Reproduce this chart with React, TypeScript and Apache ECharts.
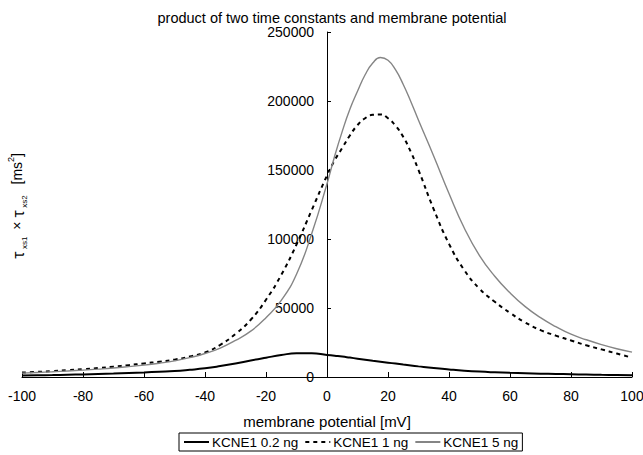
import React, { useEffect, useRef } from "react";
import * as echarts from "echarts";

const xValues = [-100, -95, -90, -85, -80, -75, -70, -65, -60, -55, -50, -45, -40, -35, -30, -25, -20, -15, -10, -5, 0, 2.5, 5, 7.5, 10, 12.5, 15, 17.5, 20, 22.5, 25, 27.5, 30, 35, 40, 45, 50, 55, 60, 65, 70, 75, 80, 85, 90, 95, 100];

const kcne1_02ng = [1000, 1200, 1400, 1650, 1900, 2200, 2500, 2900, 3300, 3800, 4300, 5200, 6300, 7900, 9800, 12000, 14000, 15900, 17200, 17200, 16000, 15400, 14800, 14050, 13300, 12550, 11800, 11100, 10400, 9700, 9000, 8350, 7700, 6500, 5500, 4600, 3900, 3400, 3000, 2700, 2400, 2200, 2000, 1800, 1600, 1450, 1300];

const kcne1_1ng = [3200, 3700, 4300, 5000, 5700, 6500, 7500, 8600, 9800, 11100, 12600, 14800, 17800, 23300, 31200, 41500, 56000, 74000, 96000, 121000, 146000, 157000, 166000, 175000, 182500, 187500, 190000, 190300, 187500, 182000, 174000, 163000, 150000, 121500, 96500, 77500, 64000, 54500, 46500, 39500, 34000, 30000, 26500, 23000, 20000, 17000, 14000];

const kcne1_5ng = [2800, 3300, 3800, 4400, 5000, 5700, 6500, 7500, 8600, 10000, 11700, 14000, 17000, 21000, 26500, 33200, 43000, 55500, 74500, 104000, 140000, 160000, 178000, 194000, 207000, 219000, 227500, 231500, 229500, 222500, 212000, 199500, 186000, 160000, 133000, 108000, 88000, 73000, 61000, 51000, 43000, 36500, 31000, 27000, 23500, 20500, 18000];

const seriesNames = ["KCNE1 0.2 ng", "KCNE1 1 ng", "KCNE1 5 ng"];

const FONT = "'Liberation Sans', Arial, sans-serif";
const TAU_FONT = "'Noto Sans CJK JP', 'DejaVu Sans', sans-serif";

const GRID_LEFT = 22;
const GRID_RIGHT = 11;
const CHART_W = 643;

export default function App() {
  const ref = useRef<HTMLDivElement>(null);
  useEffect(() => {
    if (!ref.current) return;
    const chart = echarts.init(ref.current, undefined, { renderer: "svg" });
    const pair = (ys: number[]) => xValues.map((x, i) => [x, ys[i]]);
    const plotW = CHART_W - GRID_LEFT - GRID_RIGHT;
    chart.setOption({
      animation: false,
      backgroundColor: "#fff",
      textStyle: { fontFamily: FONT },
      title: {
        text: "product of two time constants and membrane potential",
        left: 327,
        top: 5,
        textAlign: "center",
        textStyle: { fontSize: 14.5, fontWeight: "normal", color: "#000", fontFamily: FONT },
      },
      grid: {
        left: GRID_LEFT,
        right: GRID_RIGHT,
        top: 32,
        bottom: 78,
        containLabel: false,
        outerBoundsMode: "none",
      },
      legend: {
        data: seriesNames,
        bottom: 4,
        left: 179,
        itemWidth: 25,
        itemHeight: 8,
        itemGap: 6,
        borderColor: "#000",
        borderWidth: 1,
        padding: [2, 4],
        itemStyle: { opacity: 0 },
        textStyle: { fontSize: 13.5, color: "#000", fontFamily: FONT, padding: [0, 0, 0, -2] },
      },
      xAxis: {
        type: "value",
        min: -100,
        max: 100,
        interval: 20,
        name: "membrane potential [mV]",
        nameLocation: "middle",
        nameGap: 37,
        nameTextStyle: { fontSize: 15, color: "#000", fontFamily: FONT },
        axisLine: { onZero: true, lineStyle: { color: "#000", width: 1 } },
        axisTick: { inside: true, length: 5, lineStyle: { color: "#000" } },
        axisLabel: { fontSize: 14, color: "#000", margin: 12, fontFamily: FONT },
        splitLine: { show: false },
      },
      yAxis: {
        type: "value",
        min: 0,
        max: 250000,
        interval: 50000,
        offset: -plotW / 2,
        axisLine: { show: true, onZero: false, lineStyle: { color: "#000", width: 1 } },
        axisTick: { show: true, inside: true, length: 4, lineStyle: { color: "#000" } },
        axisLabel: {
          fontSize: 14,
          color: "#000",
          margin: 13,
          fontFamily: FONT,
          formatter: (v: number) => String(v),
        },
        splitLine: { show: false },
      },
      graphic: [
        {
          type: "text",
          x: 17,
          y: 206,
          rotation: Math.PI / 2,
          style: {
            text: "{tau|τ}{sub| xs1}{t| × }{tau|τ}{sub| xs2}{t|  [ms}{sup|2}{t|]}",
            align: "center",
            verticalAlign: "middle",
            fill: "#000",
            rich: {
              tau: { fontSize: 15, fontFamily: TAU_FONT, fill: "#000", lineHeight: 22, verticalAlign: "middle" },
              t: { fontSize: 14, fontFamily: FONT, fill: "#000", lineHeight: 22, verticalAlign: "middle" },
              sub: { fontSize: 8, fontFamily: FONT, fill: "#000", lineHeight: 22, verticalAlign: "bottom", padding: [0, 3, 0, 0] },
              sup: { fontSize: 9, fontFamily: FONT, fill: "#000", lineHeight: 22, verticalAlign: "top" },
            },
          },
        },
      ],
      series: [
        {
          name: seriesNames[0],
          type: "line",
          data: pair(kcne1_02ng),
          smooth: true,
          symbol: "none",
          lineStyle: { color: "#000", width: 2, type: "solid" },
          itemStyle: { color: "#000" },
        },
        {
          name: seriesNames[1],
          type: "line",
          data: pair(kcne1_1ng),
          smooth: true,
          symbol: "none",
          lineStyle: { color: "#000", width: 2, type: [4, 4] },
          itemStyle: { color: "#000" },
        },
        {
          name: seriesNames[2],
          type: "line",
          data: pair(kcne1_5ng),
          smooth: true,
          symbol: "none",
          lineStyle: { color: "#858585", width: 1.4, type: "solid" },
          itemStyle: { color: "#858585" },
        },
      ],
    });
    return () => chart.dispose();
  }, []);
  return (
    <div
      ref={ref}
      style={{ position: "fixed", left: 0, top: 0, width: 643, height: 455 }}
    />
  );
}
